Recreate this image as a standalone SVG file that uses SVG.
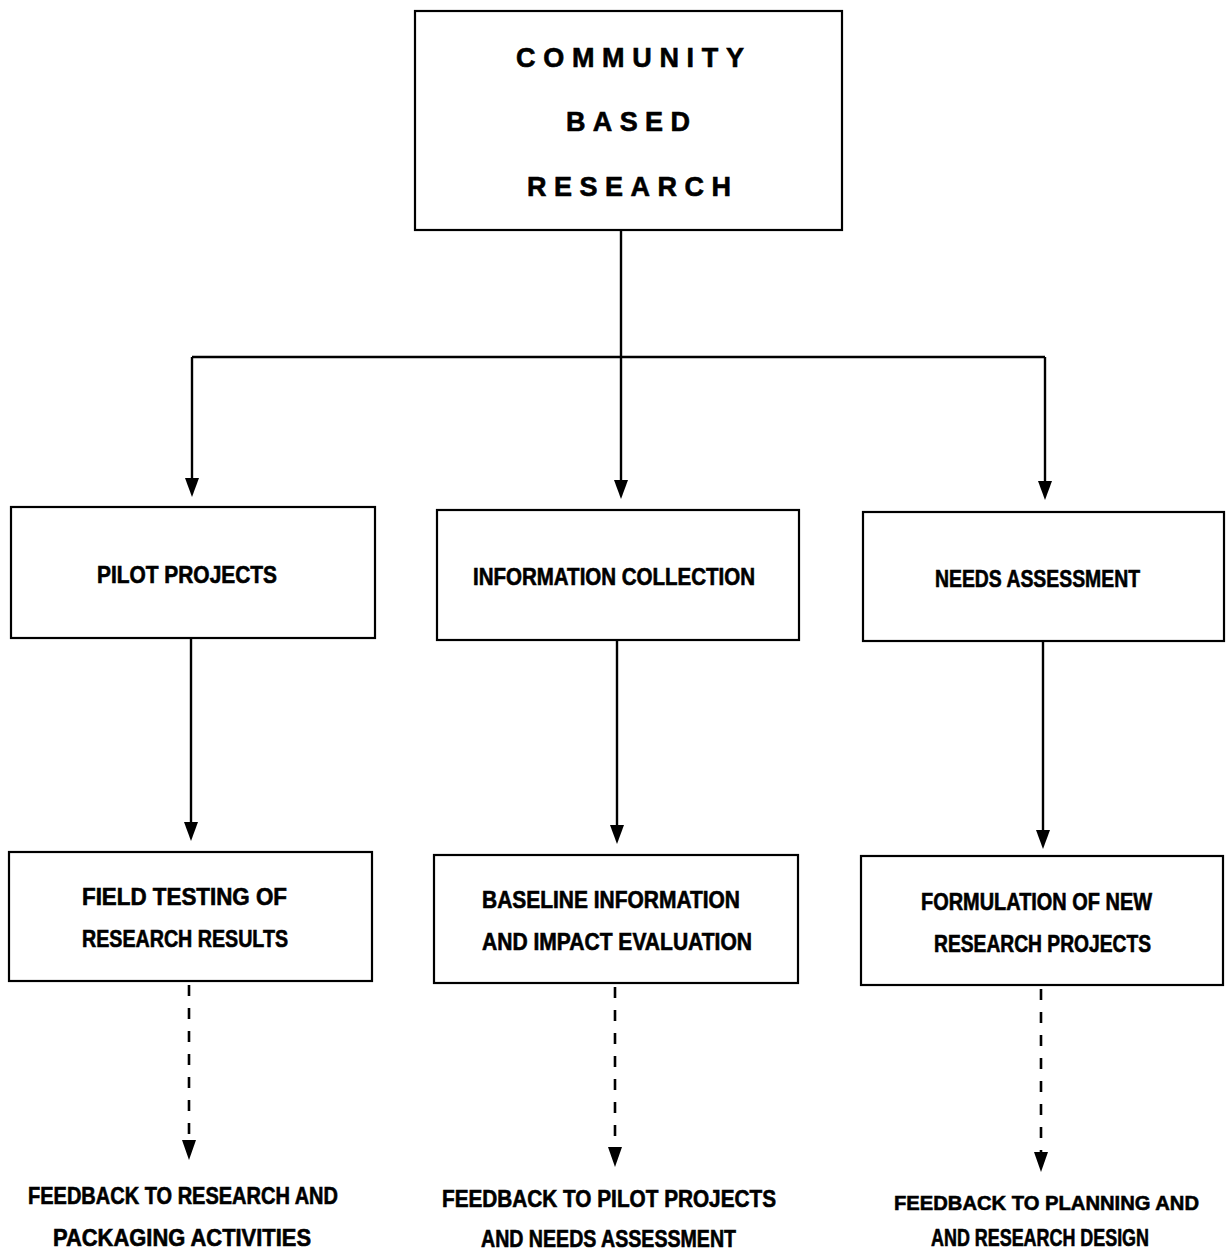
<svg xmlns="http://www.w3.org/2000/svg" width="1230" height="1257" viewBox="0 0 1230 1257">
<style>
.box{fill:#fff;stroke:#000;stroke-width:2.2}
.ln{fill:none;stroke:#000;stroke-width:2.4}
.dash{fill:none;stroke:#000;stroke-width:2.6;stroke-dasharray:11 12}
.t{font-family:"Liberation Sans",Arial,sans-serif;font-weight:bold;font-size:23px;fill:#000;stroke:#000;stroke-width:0.6}
.h{font-family:"Liberation Sans",Arial,sans-serif;font-weight:bold;font-size:27px;fill:#000;stroke:#000;stroke-width:0.6}
.m{text-anchor:middle}
</style>
<g id="connectors">
<path class="ln" d="M621,230 V480"/>
<polygon points="614,480 628,480 621,499" fill="#000"/>
<path class="ln" d="M192,357 H1045"/>
<path class="ln" d="M192,357 V478"/>
<polygon points="185,478 199,478 192,497" fill="#000"/>
<path class="ln" d="M1045,357 V481"/>
<polygon points="1038,481 1052,481 1045,500" fill="#000"/>
<path class="ln" d="M191,638 V822"/>
<polygon points="184,822 198,822 191,841" fill="#000"/>
<path class="ln" d="M617,640 V825"/>
<polygon points="610,825 624,825 617,844" fill="#000"/>
<path class="ln" d="M1043,641 V830"/>
<polygon points="1036,830 1050,830 1043,849" fill="#000"/>
<path class="dash" d="M189,985 V1140"/>
<polygon points="182,1140 196,1140 189,1160" fill="#000"/>
<path class="dash" d="M615,987 V1147"/>
<polygon points="608,1147 622,1147 615,1167" fill="#000"/>
<path class="dash" d="M1041,989 V1152"/>
<polygon points="1034,1152 1048,1152 1041,1172" fill="#000"/>
</g>
<g id="community">
<rect class="box" x="415" y="11" width="427" height="219"/>
<text class="h" x="516" y="67" textLength="228" lengthAdjust="spacing">COMMUNITY</text>
<text class="h" x="566" y="131" textLength="124" lengthAdjust="spacing">BASED</text>
<text class="h" x="527" y="196" textLength="204" lengthAdjust="spacing">RESEARCH</text>
</g>
<g id="pilot">
<rect class="box" x="11" y="507" width="364" height="131"/>
<text class="t" x="97" y="583" textLength="180" lengthAdjust="spacingAndGlyphs">PILOT PROJECTS</text>
</g>
<g id="info">
<rect class="box" x="437" y="510" width="362" height="130"/>
<text class="t" x="473" y="585" textLength="282" lengthAdjust="spacingAndGlyphs">INFORMATION COLLECTION</text>
</g>
<g id="needs">
<rect class="box" x="863" y="512" width="361" height="129"/>
<text class="t" x="935" y="587" textLength="205" lengthAdjust="spacingAndGlyphs">NEEDS ASSESSMENT</text>
</g>
<g id="field">
<rect class="box" x="9" y="852" width="363" height="129"/>
<text class="t" x="82" y="905" textLength="205" lengthAdjust="spacingAndGlyphs">FIELD TESTING OF</text>
<text class="t" x="82" y="947" textLength="206" lengthAdjust="spacingAndGlyphs">RESEARCH RESULTS</text>
</g>
<g id="baseline">
<rect class="box" x="434" y="855" width="364" height="128"/>
<text class="t" x="482" y="908" textLength="258" lengthAdjust="spacingAndGlyphs">BASELINE INFORMATION</text>
<text class="t" x="482" y="950" textLength="270" lengthAdjust="spacingAndGlyphs">AND IMPACT EVALUATION</text>
</g>
<g id="formulation">
<rect class="box" x="861" y="856" width="362" height="129"/>
<text class="t" x="921" y="910" textLength="231" lengthAdjust="spacingAndGlyphs">FORMULATION OF NEW</text>
<text class="t" x="934" y="952" textLength="217" lengthAdjust="spacingAndGlyphs">RESEARCH PROJECTS</text>
</g>
<g id="feedback1">
<text class="t" x="28" y="1204" textLength="310" lengthAdjust="spacingAndGlyphs">FEEDBACK TO RESEARCH AND</text>
<text class="t" x="53" y="1246" textLength="258" lengthAdjust="spacingAndGlyphs">PACKAGING ACTIVITIES</text>
</g>
<g id="feedback2">
<text class="t" x="442" y="1207" textLength="334" lengthAdjust="spacingAndGlyphs">FEEDBACK TO PILOT PROJECTS</text>
<text class="t" x="481" y="1247" textLength="255" lengthAdjust="spacingAndGlyphs">AND NEEDS ASSESSMENT</text>
</g>
<g id="feedback3">
<text class="t m" x="1046.5" y="1210" style="font-size:21px" textLength="305" lengthAdjust="spacingAndGlyphs">FEEDBACK TO PLANNING AND</text>
<text class="t m" x="1040" y="1246" textLength="218" lengthAdjust="spacingAndGlyphs">AND RESEARCH DESIGN</text>
</g>
</svg>
